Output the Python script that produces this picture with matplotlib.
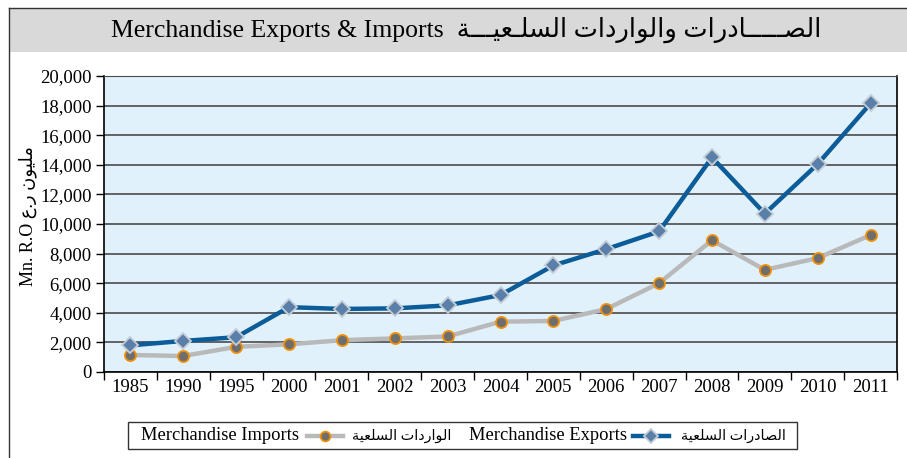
import matplotlib
matplotlib.use('Agg')
import matplotlib.pyplot as plt
from matplotlib.lines import Line2D
from matplotlib.patches import Rectangle
from matplotlib.ticker import FuncFormatter

YEARS = ['1985', '1990', '1995', '2000', '2001', '2002', '2003', '2004',
         '2005', '2006', '2007', '2008', '2009', '2010', '2011']
EXPORTS = [1800, 2100, 2350, 4380, 4260, 4300, 4500, 5200,
           7200, 8300, 9500, 14500, 10700, 14050, 18150]
IMPORTS = [1150, 1080, 1700, 1870, 2150, 2270, 2400, 3400,
           3450, 4250, 6000, 8900, 6900, 7700, 9250]

EXP_COLOR = '#0b5c98'
IMP_COLOR = '#b9b9b9'
SERIF = ['Liberation Serif', 'DejaVu Sans']

# minimal arabic shaping (presentation forms, visual order)
FORMS = {
    'ا': ('\uFE8D', '\uFE8E', None, None),
    'ة': ('\uFE93', '\uFE94', None, None),
    'ت': ('\uFE95', '\uFE96', '\uFE97', '\uFE98'),
    'د': ('\uFEA9', '\uFEAA', None, None),
    'ر': ('\uFEAD', '\uFEAE', None, None),
    'س': ('\uFEB1', '\uFEB2', '\uFEB3', '\uFEB4'),
    'ص': ('\uFEB9', '\uFEBA', '\uFEBB', '\uFEBC'),
    'ع': ('\uFEC9', '\uFECA', '\uFECB', '\uFECC'),
    'ل': ('\uFEDD', '\uFEDE', '\uFEDF', '\uFEE0'),
    'م': ('\uFEE1', '\uFEE2', '\uFEE3', '\uFEE4'),
    'ن': ('\uFEE5', '\uFEE6', '\uFEE7', '\uFEE8'),
    'و': ('\uFEED', '\uFEEE', None, None),
    'ي': ('\uFEF1', '\uFEF2', '\uFEF3', '\uFEF4'),
    'ـ': ('ـ', 'ـ', 'ـ', 'ـ'),
}
RIGHT_ONLY = set('اةدرو')


def shape(s):
    out = []
    for i, c in enumerate(s):
        if c not in FORMS:
            out.append(c)
            continue
        prev = s[i - 1] if i > 0 else ''
        nxt = s[i + 1] if i < len(s) - 1 else ''
        jp = prev in FORMS and prev not in RIGHT_ONLY
        jn = c not in RIGHT_ONLY and nxt in FORMS
        iso, fin, ini, med = FORMS[c]
        if jp and jn:
            out.append(med)
        elif jp:
            out.append(fin)
        elif jn:
            out.append(ini)
        else:
            out.append(iso)
    return ''.join(reversed(out))


TITLE_AR = shape('الصـــــادرات والواردات السلـعيـــة')
EXP_AR = shape('الصادرات السلعية')
IMP_AR = shape('الواردات السلعية')
UNIT_AR = shape('مليون ر.ع')

W, H = 907, 458
fig = plt.figure(figsize=(W / 100, H / 100), dpi=100)
fig.patch.set_facecolor('white')


def fx(px):
    return px / W


def fy(py):
    return 1 - py / H


# HEADER BAND AND FRAME
fig.patches.append(Rectangle((fx(9), fy(52)), 1 - fx(9), fy(8) - fy(52),
                             transform=fig.transFigure, fc='#d9d9d9', ec='none'))
fig.lines.append(Line2D([fx(9), 1], [fy(7.5), fy(7.5)], transform=fig.transFigure,
                        color='#333333', lw=1))
fig.lines.append(Line2D([fx(9), fx(9)], [fy(7.5), 0], transform=fig.transFigure,
                        color='#333333', lw=1))

fig.text(fx(466), fy(30), 'Merchandise Exports & Imports  ' + TITLE_AR,
         ha='center', va='center', fontsize=18.5, family=SERIF)

# MAIN AXES
ax = fig.add_axes([fx(104), fy(372), fx(897) - fx(104), fy(76) - fy(372)])
ax.set_facecolor('#e0f1fb')
x = list(range(len(YEARS)))

ax.plot(x, IMPORTS, color=IMP_COLOR, lw=3.2, marker='o', ms=8,
        mfc='#6e6e6e', mec='#f0900a', mew=1.3, zorder=3)
ax.plot(x, EXPORTS, color=EXP_COLOR, lw=3.2, marker='D', ms=8,
        mfc='#5a7fa8', mec='#c5ced8', mew=1.3, zorder=4)

ax.set_xlim(-0.5, len(YEARS) - 0.5)
ax.set_ylim(0, 20000)
ax.set_yticks(range(0, 20001, 2000))
ax.yaxis.set_major_formatter(FuncFormatter(lambda v, p: f'{int(v):,}'))
ax.grid(axis='y', color='#4a4a4a', lw=1.2)
ax.set_axisbelow(True)

ax.set_xticks([i - 0.5 for i in range(len(YEARS) + 1)])
ax.set_xticklabels([])
ax.set_xticks(x, minor=True)
ax.set_xticklabels(YEARS, minor=True, fontsize=13.5, family=SERIF)
ax.tick_params(axis='x', which='major', direction='out', length=6, width=1)
ax.tick_params(axis='x', which='minor', length=0, pad=5)
ax.tick_params(axis='y', direction='out', length=6, width=1, labelsize=13.5, pad=3)
for lab in ax.get_yticklabels():
    lab.set_family(SERIF)

for side in ['left', 'bottom', 'right']:
    ax.spines[side].set_color('black')
    ax.spines[side].set_linewidth(1.2)
ax.spines['top'].set_color('#4a4a4a')

fig.text(fx(28), fy(216), 'Mn. R.O ' + UNIT_AR, rotation=90,
         ha='center', va='center', fontsize=13, family=SERIF)

# LEGEND (drawn by hand, right-to-left layout)
ly = fy(436)
fig.patches.append(Rectangle((fx(128), fy(449)), fx(797) - fx(128), fy(422) - fy(449),
                             transform=fig.transFigure, fc='white', ec='#333333', lw=1))
fig.text(fx(141), ly, 'Merchandise Imports', ha='left', va='center',
         fontsize=13.3, family=SERIF)
fig.lines.append(Line2D([fx(307), fx(343)], [ly, ly], transform=fig.transFigure,
                        color=IMP_COLOR, lw=3.2))
fig.lines.append(Line2D([fx(325)], [ly], transform=fig.transFigure, marker='o', ms=7,
                        mfc='#6e6e6e', mec='#f0900a', mew=1.3, lw=0))
fig.text(fx(451), ly, IMP_AR, ha='right', va='center', fontsize=10.4, family=SERIF)
fig.text(fx(469), ly, 'Merchandise Exports', ha='left', va='center',
         fontsize=13.3, family=SERIF)
fig.lines.append(Line2D([fx(633), fx(669)], [ly, ly], transform=fig.transFigure,
                        color=EXP_COLOR, lw=3.2))
fig.lines.append(Line2D([fx(651)], [ly], transform=fig.transFigure, marker='D', ms=7,
                        mfc='#5a7fa8', mec='#c5ced8', mew=1.3, lw=0))
fig.text(fx(786), ly, EXP_AR, ha='right', va='center', fontsize=10.4, family=SERIF)

plt.savefig('out.png', dpi=100)
